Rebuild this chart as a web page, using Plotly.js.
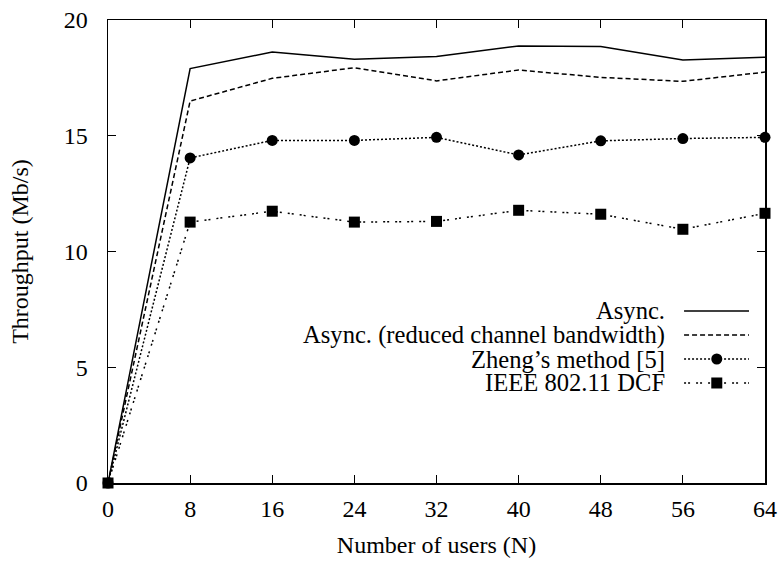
<!DOCTYPE html>
<html>
<head>
<meta charset="utf-8">
<script src="https://cdn.plot.ly/plotly-3.0.1.min.js"></script>
<style>html,body{margin:0;padding:0;background:#fff;}#chart{width:784px;height:561px;}</style>
</head>
<body>
<div id="chart"></div>
<script>
const users = [0, 8, 16, 24, 32, 40, 48, 56, 64];
const asyncVals = [0, 17.9, 18.62, 18.3, 18.42, 18.88, 18.86, 18.27, 18.39];
const asyncReduced = [0, 16.5, 17.48, 17.94, 17.37, 17.84, 17.52, 17.35, 17.75];
const zheng = [0, 14.04, 14.8, 14.8, 14.93, 14.17, 14.78, 14.88, 14.93];
const ieee = [0, 11.27, 11.74, 11.27, 11.3, 11.78, 11.61, 10.96, 11.65];
const seriesNames = ["Async.", "Async. (reduced channel bandwidth)", "Zheng\u2019s method [5]", "IEEE 802.11 DCF"];
const xTicks = [0, 8, 16, 24, 32, 40, 48, 56, 64];
const yTicks = [0, 5, 10, 15, 20];

const FONT = '"Liberation Serif", "Times New Roman", Times, serif';
const FS = 24;
const styles = [
  {dash: "solid", symbol: null},
  {dash: "5px,3px", symbol: null},
  {dash: "2px,2px", symbol: "circle"},
  {dash: "2px,2px,2px,6px", symbol: "square"}
];
const values = [asyncVals, asyncReduced, zheng, ieee];

const traces = values.map((v, i) => ({
  x: users, y: v, type: "scatter",
  mode: styles[i].symbol ? "lines+markers" : "lines",
  name: seriesNames[i],
  cliponaxis: false,
  line: {color: "#000", width: 1.5, dash: styles[i].dash},
  marker: {symbol: styles[i].symbol || "circle", size: 11, color: "#000"},
  showlegend: false
}));

// legend drawn gnuplot-style: right-aligned text, sample to the right
const rowY = [0.3715, 0.3197, 0.2678, 0.216];
const textX = 0.851, sx0 = 0.8768, sx1 = 0.9757, mx = 0.9266;
const annotations = seriesNames.map((n, i) => ({
  xref: "paper", yref: "paper", x: textX, y: rowY[i], xanchor: "right", yanchor: "middle",
  text: n, showarrow: false, font: {family: FONT, size: 24.6, color: "#000"}
}));
const shapes = [];
seriesNames.forEach((n, i) => {
  shapes.push({type: "line", xref: "paper", yref: "paper", x0: sx0, x1: sx1, y0: rowY[i], y1: rowY[i],
    line: {color: "#000", width: 1.5, dash: styles[i].dash}});
  if (styles[i].symbol) {
    shapes.push({type: styles[i].symbol === "circle" ? "circle" : "rect",
      xref: "paper", yref: "paper", xsizemode: "pixel", ysizemode: "pixel",
      xanchor: mx, yanchor: rowY[i], x0: -5.5, x1: 5.5, y0: -5.5, y1: 5.5,
      fillcolor: "#000", line: {width: 0}});
  }
});

const axisCommon = {
  showgrid: false, zeroline: false, showline: true, linecolor: "#000", linewidth: 1.5,
  mirror: "allticks", ticks: "inside", ticklen: 8, tickwidth: 1, tickcolor: "#000",
  tickfont: {family: FONT, size: FS, color: "#000"}
};

const layout = {
  width: 784, height: 561,
  margin: {l: 107.5, r: 19, t: 20, b: 78},
  paper_bgcolor: "#fff", plot_bgcolor: "#fff",
  showlegend: false,
  font: {family: FONT},
  xaxis: Object.assign({}, axisCommon, {
    range: [0, 64], tickvals: xTicks, ticktext: xTicks.map(String),
    ticklabelstandoff: 4,
    title: {text: "Number of users (N)", font: {family: FONT, size: FS, color: "#000"}, standoff: 15}
  }),
  yaxis: Object.assign({}, axisCommon, {
    range: [0, 20], tickvals: yTicks, ticktext: yTicks.map(String),
    ticklabelstandoff: 14,
    title: {text: "Throughput (Mb/s)", font: {family: FONT, size: FS, color: "#000"}, standoff: 28}
  }),
  annotations: annotations,
  shapes: shapes
};

Plotly.newPlot("chart", traces, layout, {displayModeBar: false, staticPlot: true});
</script>
</body>
</html>
